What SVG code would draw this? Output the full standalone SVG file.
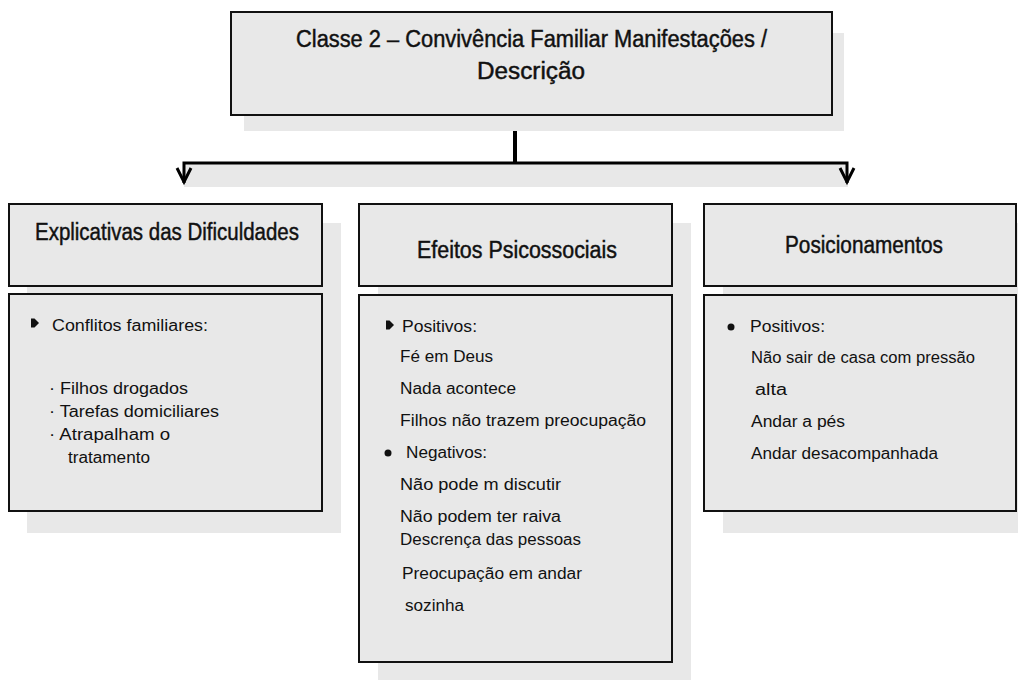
<svg xmlns="http://www.w3.org/2000/svg" width="1018" height="680" viewBox="0 0 1018 680">
<style>
.shadow{fill:#e8e8e8;stroke:none}
.box{fill:#e8e8e8;stroke:#111;stroke-width:2}
.title{font-family:"Liberation Sans",Arial,sans-serif;font-size:23px;fill:#111;stroke:#111;stroke-width:0.45}
.body{font-family:"Liberation Sans",Arial,sans-serif;font-size:16px;fill:#111}
.line{stroke:#000;fill:none}
</style>
<defs>
<polygon id="arrowBullet" points="0,-4.5 3.5,-4.5 8,0 3.5,4.5 0,4.5" fill="#111"/>
</defs>
<rect width="1018" height="680" fill="#fff"/>

<g id="connectors">
<rect class="shadow" x="184" y="164" width="664" height="23"/>
<line class="line" x1="515" y1="131" x2="515" y2="163" stroke-width="4"/>
<polyline class="line" points="184,183 184,163 847,163 847,183" stroke-width="3"/>
<polyline class="line" points="177,168 184,182 191,168" stroke-width="3"/>
<polyline class="line" points="840,168 847,182 854,168" stroke-width="3"/>
</g>

<g id="node-top">
<rect class="shadow" x="244" y="33" width="600" height="98"/>
<rect class="box" x="231" y="12" width="601" height="103"/>
<text class="title" x="296" y="47" textLength="471" lengthAdjust="spacingAndGlyphs">Classe 2 – Convivência Familiar Manifestações /</text>
<text class="title" x="531" y="79" text-anchor="middle" textLength="108" lengthAdjust="spacingAndGlyphs">Descrição</text>
</g>

<g id="node-explicativas">
<rect class="shadow" x="27" y="223" width="314" height="310"/>
<rect class="box" x="9" y="204" width="313" height="82"/>
<text class="title" x="35" y="240" textLength="264" lengthAdjust="spacingAndGlyphs">Explicativas das Dificuldades</text>
<rect class="box" x="9" y="294" width="313" height="217"/>
<use href="#arrowBullet" x="31" y="323"/>
<text class="body" x="52" y="331" textLength="156" lengthAdjust="spacingAndGlyphs">Conflitos familiares:</text>
<text class="body" x="49" y="394" textLength="139" lengthAdjust="spacingAndGlyphs">· Filhos drogados</text>
<text class="body" x="49" y="417" textLength="170" lengthAdjust="spacingAndGlyphs">· Tarefas domiciliares</text>
<text class="body" x="49" y="440" textLength="121" lengthAdjust="spacingAndGlyphs">· Atrapalham o</text>
<text class="body" x="68" y="463" textLength="82" lengthAdjust="spacingAndGlyphs">tratamento</text>
</g>

<g id="node-efeitos">
<rect class="shadow" x="378" y="223" width="313" height="457"/>
<rect class="box" x="359" y="204" width="313" height="82"/>
<text class="title" x="417" y="258" textLength="200" lengthAdjust="spacingAndGlyphs">Efeitos Psicossociais</text>
<rect class="box" x="359" y="295" width="313" height="367"/>
<use href="#arrowBullet" x="386" y="325"/>
<text class="body" x="402" y="332" textLength="75" lengthAdjust="spacingAndGlyphs">Positivos:</text>
<text class="body" x="400" y="362" textLength="93" lengthAdjust="spacingAndGlyphs">Fé em Deus</text>
<text class="body" x="400" y="394" textLength="116" lengthAdjust="spacingAndGlyphs">Nada acontece</text>
<text class="body" x="400" y="426" textLength="246" lengthAdjust="spacingAndGlyphs">Filhos não trazem preocupação</text>
<circle cx="388" cy="453" r="3.5" fill="#111"/>
<text class="body" x="406" y="458" textLength="81" lengthAdjust="spacingAndGlyphs">Negativos:</text>
<text class="body" x="400" y="490" textLength="161" lengthAdjust="spacingAndGlyphs">Não pode m discutir</text>
<text class="body" x="400" y="522" textLength="161" lengthAdjust="spacingAndGlyphs">Não podem ter raiva</text>
<text class="body" x="400" y="545" textLength="181" lengthAdjust="spacingAndGlyphs">Descrença das pessoas</text>
<text class="body" x="402" y="579" textLength="180" lengthAdjust="spacingAndGlyphs">Preocupação em andar</text>
<text class="body" x="405" y="611" textLength="59" lengthAdjust="spacingAndGlyphs">sozinha</text>
</g>

<g id="node-posicionamentos">
<rect class="shadow" x="723" y="223" width="300" height="310"/>
<rect class="box" x="704" y="204" width="312" height="82"/>
<text class="title" x="785" y="253" textLength="158" lengthAdjust="spacingAndGlyphs">Posicionamentos</text>
<rect class="box" x="704" y="295" width="312" height="216"/>
<circle cx="731" cy="327" r="3.5" fill="#111"/>
<text class="body" x="750" y="332" textLength="75" lengthAdjust="spacingAndGlyphs">Positivos:</text>
<text class="body" x="751" y="363" textLength="224" lengthAdjust="spacingAndGlyphs">Não sair de casa com pressão</text>
<text class="body" x="755" y="395" textLength="32" lengthAdjust="spacingAndGlyphs">alta</text>
<text class="body" x="751" y="427" textLength="94" lengthAdjust="spacingAndGlyphs">Andar a pés</text>
<text class="body" x="751" y="459" textLength="187" lengthAdjust="spacingAndGlyphs">Andar desacompanhada</text>
</g>
</svg>
